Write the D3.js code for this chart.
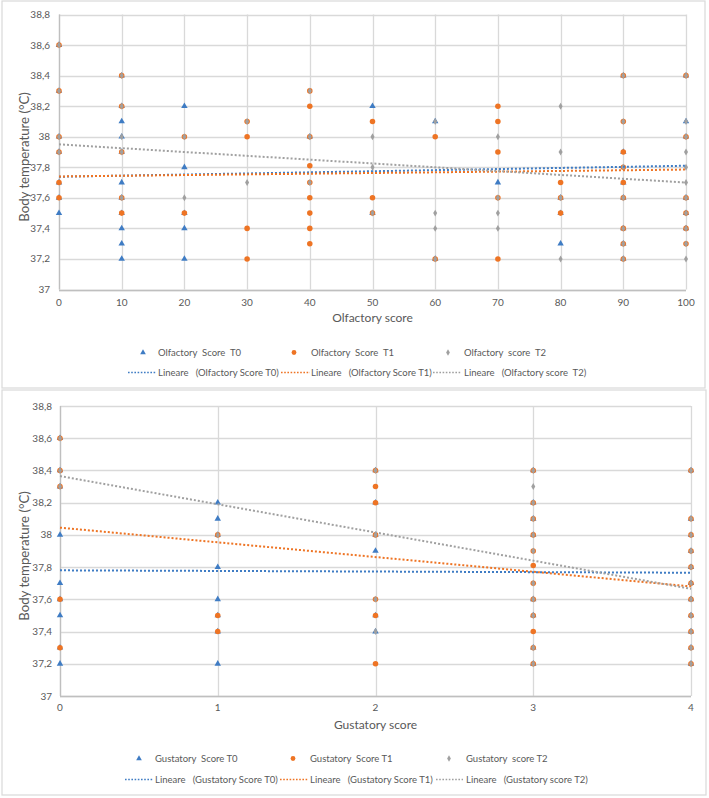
<!DOCTYPE html>
<html><head><meta charset="utf-8">
<script src="https://cdn.jsdelivr.net/npm/d3@7"></script>
<style>body{margin:0;background:#fff}svg{display:block}text{white-space:pre}</style>
</head><body>
<svg id="c" width="709" height="798"></svg>
<script>
// ---------- DATA ----------
const yTicks = [37, 37.2, 37.4, 37.6, 37.8, 38, 38.2, 38.4, 38.6, 38.8];
const olfTicks = [0, 10, 20, 30, 40, 50, 60, 70, 80, 90, 100];
const gusTicks = [0, 1, 2, 3, 4];

const olfT0 = [
 [0,38.6],[0,38.3],[0,38.0],[0,37.9],[0,37.7],[0,37.6],[0,37.5],
 [10,38.4],[10,38.2],[10,38.1],[10,38.0],[10,37.9],[10,37.7],[10,37.6],[10,37.5],[10,37.4],[10,37.3],[10,37.2],
 [20,38.2],[20,37.8],[20,37.5],[20,37.4],[20,37.2],
 [40,38.0],
 [50,38.2],[50,37.5],
 [60,38.1],[60,37.2],
 [70,37.7],
 [80,37.6],[80,37.5],[80,37.3],
 [90,38.4],[90,37.9],[90,37.7],[90,37.6],[90,37.4],[90,37.3],[90,37.2],
 [100,38.4],[100,38.1],[100,38.0],[100,37.6],[100,37.5],[100,37.4]
];
const olfT1 = [
 [0,38.6],[0,38.3],[0,38.0],[0,37.9],[0,37.7],[0,37.6],
 [10,38.4],[10,38.2],[10,37.9],[10,37.6],[10,37.5],
 [20,38.0],[20,37.5],
 [30,38.1],[30,38.0],[30,37.4],[30,37.2],
 [40,38.3],[40,38.2],[40,38.0],[40,37.81],[40,37.7],[40,37.6],[40,37.5],[40,37.4],[40,37.3],
 [50,38.1],[50,37.6],[50,37.5],
 [60,38.0],[60,37.2],
 [70,38.2],[70,38.1],[70,37.9],[70,37.6],[70,37.2],
 [80,37.7],[80,37.6],[80,37.5],
 [90,38.4],[90,38.1],[90,37.9],[90,37.8],[90,37.7],[90,37.6],[90,37.4],[90,37.3],[90,37.2],
 [100,38.4],[100,38.0],[100,37.6],[100,37.5],[100,37.4],[100,37.3]
];
const olfT2 = [
 [0,38.6],[0,38.3],[0,38.0],[0,37.9],
 [10,38.4],[10,38.2],[10,38.0],[10,37.9],[10,37.6],
 [20,38.0],[20,37.6],
 [30,38.1],[30,37.7],
 [40,38.3],[40,38.0],[40,37.7],
 [50,38.0],[50,37.8],[50,37.5],
 [60,38.1],[60,37.5],[60,37.4],[60,37.2],
 [70,38.0],[70,37.6],[70,37.5],[70,37.4],
 [80,38.2],[80,37.9],[80,37.6],[80,37.2],
 [90,38.4],[90,38.1],[90,37.8],[90,37.6],[90,37.4],[90,37.3],[90,37.2],
 [100,38.4],[100,38.1],[100,38.0],[100,37.9],[100,37.8],[100,37.7],[100,37.6],[100,37.5],[100,37.4],[100,37.3],[100,37.2]
];
// trend line values at x = 0 and x = 100
const olfTrendT0 = [37.738, 37.81];
const olfTrendT1 = [37.74, 37.785];
const olfTrendT2 = [37.95, 37.70];

const gusT0 = [
 [0,38.6],[0,38.4],[0,38.3],[0,38.0],[0,37.7],[0,37.6],[0,37.5],[0,37.3],[0,37.2],
 [1,38.2],[1,38.1],[1,38.0],[1,37.8],[1,37.6],[1,37.5],[1,37.4],[1,37.2],
 [2,38.4],[2,38.2],[2,38.0],[2,37.9],[2,37.5],[2,37.4],
 [3,38.4],[3,38.2],[3,38.1],[3,38.0],[3,37.6],[3,37.5],[3,37.3],[3,37.2],
 [4,38.4],[4,38.1],[4,38.0],[4,37.9],[4,37.8],[4,37.7],[4,37.6],[4,37.5],[4,37.4],[4,37.3],[4,37.2]
];
const gusT1 = [
 [0,38.6],[0,38.4],[0,38.3],[0,37.6],[0,37.3],
 [1,38.0],[1,37.5],[1,37.4],
 [2,38.4],[2,38.3],[2,38.2],[2,38.0],[2,37.6],[2,37.5],[2,37.2],
 [3,38.4],[3,38.2],[3,38.1],[3,38.0],[3,37.9],[3,37.81],[3,37.7],[3,37.6],[3,37.5],[3,37.4],[3,37.3],[3,37.2],
 [4,38.4],[4,38.1],[4,38.0],[4,37.9],[4,37.8],[4,37.7],[4,37.6],[4,37.5],[4,37.4],[4,37.3],[4,37.2]
];
const gusT2 = [
 [0,38.6],[0,38.4],[0,38.3],
 [1,38.0],
 [2,38.4],[2,38.0],[2,37.6],[2,37.4],
 [3,38.4],[3,38.3],[3,38.2],[3,38.1],[3,38.0],[3,37.9],[3,37.7],[3,37.6],[3,37.5],[3,37.3],[3,37.2],
 [4,38.4],[4,38.1],[4,38.0],[4,37.9],[4,37.8],[4,37.7],[4,37.6],[4,37.5],[4,37.4],[4,37.3],[4,37.2]
];
// trend line values at x = 0 and x = 4
const gusTrendT0 = [37.78, 37.765];
const gusTrendT1 = [38.045, 37.68];
const gusTrendT2 = [38.365, 37.665];

const olfLegend = ["Olfactory  Score  T0", "Olfactory  Score  T1", "Olfactory  score  T2"];
const olfTrendLegend = ["Lineare   (Olfactory Score T0)", "Lineare   (Olfactory Score T1)", "Lineare   (Olfactory score  T2)"];
const gusLegend = ["Gustatory  Score T0", "Gustatory  Score T1", "Gustatory  score T2"];
const gusTrendLegend = ["Lineare   (Gustatory Score T0)", "Lineare   (Gustatory Score T1)", "Lineare   (Gustatory score T2)"];

// ---------- STYLE ----------
const colors = ["#3F7CC4", "#EE7424", "#A0A0A0"];
const symbols = [d3.symbolTriangle, d3.symbolCircle, d3.symbolDiamond];
const symSizes = [18, 24, 14];
const legSizes = [14, 18, 12];
const font = "Lato, 'Open Sans', sans-serif";
const txt = "#595959";
const grid = "#d9d9d9";
const fmt = d => String(+(+d).toFixed(1)).replace(".", ",");

const svg = d3.select("#c");

function panel(cfg) {
  const g = svg.append("g");
  g.append("rect").attr("x", cfg.box[0]).attr("y", cfg.box[1]).attr("width", cfg.box[2]).attr("height", cfg.box[3])
    .attr("fill", "#fff").attr("stroke", "#d9d9d9").attr("stroke-width", 1.2);
  const x = d3.scaleLinear().domain([cfg.xTicks[0], cfg.xTicks[cfg.xTicks.length - 1]]).range(cfg.xr);
  const y = d3.scaleLinear().domain([37, 38.8]).range(cfg.yr);

  g.append("g").selectAll("line").data(yTicks).join("line")
    .attr("x1", cfg.xr[0]).attr("x2", cfg.xr[1]).attr("y1", d => Math.round(y(d)) + 0.5).attr("y2", d => Math.round(y(d)) + 0.5)
    .attr("stroke", grid).attr("stroke-width", 1.3);
  g.append("g").selectAll("line").data(cfg.xTicks).join("line")
    .attr("x1", d => Math.round(x(d)) + 0.5).attr("x2", d => Math.round(x(d)) + 0.5).attr("y1", cfg.yr[1]).attr("y2", cfg.yr[0])
    .attr("stroke", grid).attr("stroke-width", 1.3);
  g.append("line").attr("x1", cfg.xr[0]).attr("x2", cfg.xr[1]).attr("y1", Math.round(y(37)) + 0.5).attr("y2", Math.round(y(37)) + 0.5).attr("stroke", "#bfbfbf").attr("stroke-width", 1.3);
  g.append("line").attr("x1", Math.round(x(cfg.xTicks[0])) + 0.5).attr("x2", Math.round(x(cfg.xTicks[0])) + 0.5).attr("y1", cfg.yr[1]).attr("y2", cfg.yr[0]).attr("stroke", "#bfbfbf").attr("stroke-width", 1.3);

  g.append("g").selectAll("text").data(yTicks).join("text")
    .attr("x", cfg.yLabelX).attr("y", d => y(d)).attr("dy", "0.35em").attr("text-anchor", "end")
    .attr("font-family", font).attr("font-size", 10).attr("fill", txt).text(fmt);
  g.append("g").selectAll("text").data(cfg.xTicks).join("text")
    .attr("x", d => x(d)).attr("y", cfg.xLabelY).attr("text-anchor", "middle")
    .attr("font-family", font).attr("font-size", 10).attr("fill", txt).text(d => d);
  g.append("text").attr("x", (cfg.xr[0] + cfg.xr[1]) / 2).attr("y", cfg.xTitleY).attr("text-anchor", "middle")
    .attr("font-family", font).attr("font-size", 12).attr("fill", txt).text(cfg.xTitle);
  g.append("text").attr("transform", `translate(${cfg.yTitleX},${(cfg.yr[0] + cfg.yr[1]) / 2 + 5}) rotate(-90)`)
    .attr("text-anchor", "middle").attr("font-family", font).attr("font-size", 13.2).attr("fill", txt)
    .text("Body temperature (°C)");

  cfg.series.forEach((s, i) => {
    g.append("g").selectAll("path").data(s).join("path")
      .attr("transform", d => `translate(${x(d[0])},${y(d[1])})`)
      .attr("d", d3.symbol().type(symbols[i]).size(symSizes[i]))
      .attr("fill", colors[i]);
  });
  cfg.trends.forEach((t, i) => {
    g.append("line")
      .attr("x1", x(cfg.xTicks[0])).attr("y1", y(t[0]))
      .attr("x2", x(cfg.xTicks[cfg.xTicks.length - 1])).attr("y2", y(t[1]))
      .attr("stroke", colors[i]).attr("stroke-width", 2).attr("stroke-dasharray", "2,2");
  });

  cfg.leg1.forEach((p, i) => {
    g.append("path").attr("transform", `translate(${p[0]},${cfg.legY1 - 3.5})`)
      .attr("d", d3.symbol().type(symbols[i]).size(legSizes[i])).attr("fill", colors[i]);
    g.append("text").attr("x", p[1]).attr("y", cfg.legY1).attr("font-family", font).attr("font-size", 9.5)
      .attr("fill", txt).text(cfg.legText[i]);
  });
  cfg.leg2.forEach((p, i) => {
    g.append("line").attr("x1", p[0]).attr("x2", p[1]).attr("y1", cfg.legY2 - 3.5).attr("y2", cfg.legY2 - 3.5)
      .attr("stroke", colors[i]).attr("stroke-width", 1.4).attr("stroke-dasharray", "1.6,1.6");
    g.append("text").attr("x", p[2]).attr("y", cfg.legY2).attr("font-family", font).attr("font-size", 9.5)
      .attr("fill", txt).text(cfg.legText2[i]);
  });
}

panel({
  box: [2, 1, 703, 387],
  xTicks: olfTicks, xr: [59, 686], yr: [289.5, 14.5],
  yLabelX: 50, xLabelY: 306, xTitle: "Olfactory score", xTitleY: 322, yTitleX: 29,
  series: [olfT0, olfT1, olfT2], trends: [olfTrendT0, olfTrendT1, olfTrendT2],
  legY1: 356, legY2: 376,
  leg1: [[143, 158], [294, 311], [448, 464]], legText: olfLegend,
  leg2: [[128, 156, 158], [281, 310, 311], [433, 461, 464]], legText2: olfTrendLegend
});
panel({
  box: [2, 390, 704, 405],
  xTicks: gusTicks, xr: [60, 691], yr: [696, 406],
  yLabelX: 52, xLabelY: 711, xTitle: "Gustatory score", xTitleY: 729, yTitleX: 29,
  series: [gusT0, gusT1, gusT2], trends: [gusTrendT0, gusTrendT1, gusTrendT2],
  legY1: 762, legY2: 783,
  leg1: [[139, 155], [293, 310], [449, 466]], legText: gusLegend,
  leg2: [[125, 153, 155], [280, 308, 310], [436, 463, 466]], legText2: gusTrendLegend
});
</script>
</body></html>
